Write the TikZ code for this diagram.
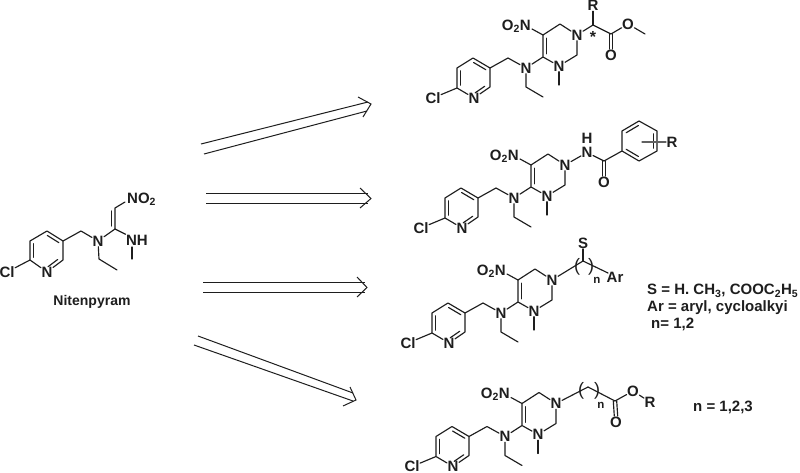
\documentclass[tikz,border=0pt]{standalone}
\usepackage{fontspec}
\setmainfont{Liberation Sans}
\usetikzlibrary{calc}
\definecolor{ink}{HTML}{1E1E1E}
\tikzset{
  atom/.style={font=\fontsize{15}{16}\selectfont\bfseries,text=ink,inner sep=0.4pt},
  lbl/.style={font=\fontsize{15}{16}\selectfont\bfseries,text=ink,inner sep=0pt,anchor=west},
  title/.style={font=\fontsize{14}{16}\selectfont\bfseries,text=ink,inner sep=0pt},
  small/.style={font=\fontsize{11.5}{13}\selectfont\bfseries,text=ink,inner sep=0pt},
  paren/.style={font=\fontsize{18}{19}\selectfont,text=ink,inner sep=0pt},
  bond/.style={draw=ink,line width=1.15pt,line cap=round,line join=round},
  shaft/.style={draw=ink,line width=1pt},
  head/.style={draw=ink,line width=1pt,line join=miter}
}
% inner line of a double bond, on the right-hand side of a -> b
\newcommand{\dblb}[3][0.14]{\draw[bond] ($(#2)!#1!(#3)!3.6pt!-90:(#3)$) -- ($(#3)!#1!(#2)!3.6pt!90:(#2)$);}
\newcommand{\corepart}{%
  \coordinate (c6) at (457,88); \coordinate (c5) at (457,68); \coordinate (c4) at (473,58);
  \coordinate (c3) at (490,68); \coordinate (c2) at (490,87); \coordinate (ch2) at (508,58);
  \coordinate (r4) at (543,57); \coordinate (r5) at (543,35); \coordinate (r6) at (560,24);
  \coordinate (r2) at (577,55); \coordinate (et1) at (526,87); \coordinate (et2) at (543,97);
  \coordinate (me) at (559,85); \coordinate (nob) at (532,29);
  \node[atom] (npy) at (474,98) {N};
  \node[atom] (cl) at (433,98) {Cl};
  \node[atom] (nam) at (526,68) {N};
  \node[atom] (n1) at (577,35) {N};
  \node[atom] (n3) at (559,66) {N};
  \node[atom,anchor=east,inner sep=0pt] (no2) at (531,26) {O\textsubscript{2}N};
  \draw[bond] (cl) -- (c6) -- (c5) -- (c4) -- (c3) -- (c2) -- (npy) -- (c6);
  \dblb{c6}{c5}\dblb{c4}{c3}\dblb[0.2]{c2}{npy}
  \draw[bond] (c3) -- (ch2) -- (nam);
  \draw[bond] (nam) -- (r4) -- (r5) -- (r6) -- (n1) -- (r2) -- (n3) -- (r4);
  \dblb{r4}{r5}
  \draw[bond] (nob) -- (r5);
  \draw[bond] (nam) -- (et1) -- (et2);
  \draw[bond] (n3) -- (me);
}
\begin{document}
\begin{tikzpicture}[x=1pt,y=-1pt]
\useasboundingbox (0,0) rectangle (800,473);
\fill[white] (0,0) rectangle (800,473);

% Nitenpyram
\begin{scope}[name prefix=ni-]
  \coordinate (c6) at (30,260); \coordinate (c5) at (30,241); \coordinate (c4) at (47,231);
  \coordinate (c3) at (63,241); \coordinate (c2) at (63,260); \coordinate (ch2) at (81,231);
  \coordinate (cc) at (115,229); \coordinate (ch) at (115,208); \coordinate (et1) at (99,259);
  \coordinate (et2) at (117,270); \coordinate (me) at (132,259); \coordinate (nob) at (125,202);
  \node[atom] (npy) at (47,272) {N};
  \node[atom] (cl) at (7,272) {Cl};
  \node[atom] (nam) at (98,241) {N};
  \node[atom,anchor=west,inner sep=0pt] (no2) at (127,199) {NO\textsubscript{2}};
  \node[atom] (nh) at (137,240) {NH};
  \node[title] (name) at (92,302) {Nitenpyram};
  \draw[bond] (cl) -- (c6) -- (c5) -- (c4) -- (c3) -- (c2) -- (npy) -- (c6);
  \dblb{c6}{c5}\dblb{c4}{c3}\dblb[0.2]{c2}{npy}
  \draw[bond] (c3) -- (ch2) -- (nam) -- (cc) -- (ch) -- (nob);
  \dblb{ch}{cc}
  \draw[bond] (cc) -- (nh);
  \draw[bond] (nam) -- (et1) -- (et2);
  \coordinate (nhb) at (132,247);
  \draw[bond] (nhb) -- (me);
\end{scope}

% Arrows
\begin{scope}[name prefix=a1-]
  \coordinate (p) at (201,144); \coordinate (q) at (368,102);
  \coordinate (r) at (204,154); \coordinate (s) at (367,111);
  \coordinate (h) at (358,97); \coordinate (t) at (371,104); \coordinate (i) at (363,117);
  \draw[shaft] (p) -- (q); \draw[shaft] (r) -- (s); \draw[head] (h) -- (t) -- (i);
\end{scope}
\begin{scope}[name prefix=a2-]
  \coordinate (p) at (206,193.5); \coordinate (q) at (368,193.5);
  \coordinate (r) at (206,203.5); \coordinate (s) at (368,203.5);
  \coordinate (h) at (360,188); \coordinate (t) at (371,198.5); \coordinate (i) at (360,208);
  \draw[shaft] (p) -- (q); \draw[shaft] (r) -- (s); \draw[head] (h) -- (t) -- (i);
\end{scope}
\begin{scope}[name prefix=a3-]
  \coordinate (p) at (203,282.5); \coordinate (q) at (365,282.5);
  \coordinate (r) at (203,292.5); \coordinate (s) at (365,292.5);
  \coordinate (h) at (357,277); \coordinate (t) at (367,287.5); \coordinate (i) at (357,297);
  \draw[shaft] (p) -- (q); \draw[shaft] (r) -- (s); \draw[head] (h) -- (t) -- (i);
\end{scope}
\begin{scope}[name prefix=a4-]
  \coordinate (p) at (198,336); \coordinate (q) at (353,393);
  \coordinate (r) at (194,345); \coordinate (s) at (353,401);
  \coordinate (h) at (350,387); \coordinate (t) at (356,400); \coordinate (i) at (343,406);
  \draw[shaft] (p) -- (q); \draw[shaft] (r) -- (s); \draw[head] (h) -- (t) -- (i);
\end{scope}

% Product 1
\begin{scope}[name prefix=p1-]
  \corepart
  \coordinate (cs) at (593,25); \coordinate (co) at (611,34); \coordinate (me2) at (645,34);
  \node[atom] (rr) at (593,5.5) {R};
  \node[atom,font=\fontsize{16}{17}\selectfont\bfseries] (st) at (593,37) {*};
  \node[atom] (o) at (611,55) {O};
  \node[atom] (oe) at (628,24) {O};
  \draw[bond] (n1) -- (cs) -- (co) -- (oe) -- (me2);
  \draw[bond] (cs) -- (rr);
  \draw[bond] ([xshift=-1.7pt]co) -- ([xshift=-1.7pt]o.north);
  \draw[bond] ([xshift=1.7pt]co) -- ([xshift=1.7pt]o.north);
\end{scope}

% Product 2
\begin{scope}[shift={(-12,130)},name prefix=p2-]
  \corepart
\end{scope}
\begin{scope}[name prefix=p2b-]
  \coordinate (cam) at (604,161);
  \coordinate (b1) at (622,151); \coordinate (b2) at (622,131); \coordinate (b3) at (639,121);
  \coordinate (b4) at (657,131); \coordinate (b5) at (657,151); \coordinate (b6) at (639,161);
  \coordinate (bs) at (642,142);
  \node[atom] (nh) at (587,152.5) {N};
  \node[atom] (h) at (587,138.5) {H};
  \node[atom] (o) at (604,182) {O};
  \node[atom] (rr) at (672,142) {R};
  \draw[bond] (p2-n1) -- (nh) -- (cam) -- (b1) -- (b2) -- (b3) -- (b4) -- (b5) -- (b6) -- (b1);
  \dblb{b2}{b3}\dblb{b4}{b5}\dblb{b6}{b1}
  \draw[bond] ([xshift=-1.7pt]cam) -- ([xshift=-1.7pt]o.north);
  \draw[bond] ([xshift=1.7pt]cam) -- ([xshift=1.7pt]o.north);
  \draw[bond,draw=ink!70] (bs) -- (rr);
\end{scope}

% Product 3
\begin{scope}[shift={(-25,245)},name prefix=p3-]
  \corepart
\end{scope}
\begin{scope}[name prefix=p3b-]
  \coordinate (top) at (583,261); \coordinate (ar) at (608,273);
  \node[atom] (ss) at (583,243) {S};
  \node[lbl,anchor=center,inner sep=1pt] (arn) at (615,277) {Ar};
  \node[paren] (pl) at (577,267) {(};
  \node[paren] (pr) at (591,267) {)};
  \node[small] (nn) at (597,280) {n};
  \draw[bond] (p3-n1) -- (top) -- (ar);
  \draw[bond] (top) -- (ss);
  \node[lbl] (t1) at (647,291) {S = H. CH\textsubscript{3}, COOC\textsubscript{2}H\textsubscript{5}};
  \node[lbl] (t2) at (647,308) {Ar = aryl, cycloalkyi};
  \node[lbl] (t3) at (651,324) {n= 1,2};
\end{scope}

% Product 4
\begin{scope}[shift={(-21,368.5)},name prefix=p4-]
  \corepart
\end{scope}
\begin{scope}[name prefix=p4b-]
  \coordinate (top) at (588,387); \coordinate (co) at (615,401);
  \node[atom] (o) at (616,422) {O};
  \node[atom] (oe) at (633,391) {O};
  \node[atom] (rr) at (650,402) {R};
  \node[paren] (pl) at (581,391) {(};
  \node[paren] (pr) at (597,391) {)};
  \node[small] (nn) at (601,405) {n};
  \draw[bond] (p4-n1) -- (top) -- (co) -- (oe) -- (rr);
  \draw[bond] ([xshift=-1.7pt]co) -- ([xshift=-1.7pt]o.north);
  \draw[bond] ([xshift=1.7pt]co) -- ([xshift=1.7pt]o.north);
  \node[lbl,anchor=center] (t4) at (723,407) {n = 1,2,3};
\end{scope}
\end{tikzpicture}
\end{document}
